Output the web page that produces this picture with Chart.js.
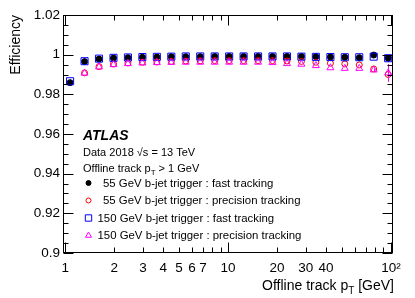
<!DOCTYPE html>
<html>
<head>
<meta charset="utf-8">
<script src="https://cdn.jsdelivr.net/npm/chart.js"></script>
<style>
  html, body { margin: 0; padding: 0; background: #fff; }
  #wrap { width: 415px; height: 298px; }
</style>
</head>
<body>
<div id="wrap"><canvas id="eff" width="415" height="298"></canvas></div>
<script>
// offline track pT bin centres [GeV]
const ptBins = [1.070, 1.313, 1.611, 1.977, 2.425, 2.975, 3.651, 4.479, 5.495, 6.742, 8.272, 10.15,
                12.45, 15.28, 18.74, 23.0, 28.2, 34.6, 42.5, 52.1, 63.9, 78.4, 96.2];

const eff55Fast = [0.9859, 0.9965, 0.9978, 0.9983, 0.9985, 0.9987, 0.9988, 0.9990, 0.9990, 0.9990, 0.9991, 0.9991,
                   0.9991, 0.9991, 0.9991, 0.9991, 0.9991, 0.9990, 0.9988, 0.9987, 0.9985, 0.9998, 0.9982];
const eff55Prec = [null, 0.9908, 0.9940, 0.9953, 0.9958, 0.9962, 0.9963, 0.9966, 0.9968, 0.9969, 0.9970, 0.9970,
                   0.9970, 0.9970, 0.9970, 0.9968, 0.9966, 0.9962, 0.9957, 0.9953, 0.9948, 0.9928, 0.9900];
const eff150Fast = [0.9866, 0.9967, 0.9980, 0.9984, 0.9986, 0.9988, 0.9989, 0.9990, 0.9991, 0.9991, 0.9991, 0.9991,
                    0.9991, 0.9991, 0.9991, 0.9991, 0.9990, 0.9989, 0.9988, 0.9987, 0.9987, 0.9990, 0.9982];
const eff150Prec = [null, 0.9907, 0.9938, 0.9950, 0.9955, 0.9958, 0.9960, 0.9961, 0.9962, 0.9962, 0.9962, 0.9962,
                    0.9962, 0.9962, 0.9960, 0.9955, 0.9952, 0.9945, 0.9934, 0.9931, 0.9931, 0.9923, 0.9908];
// only the last bins have an error visible outside the marker
const eff150PrecErr = [0, 0, 0, 0, 0, 0, 0, 0, 0, 0, 0, 0, 0, 0, 0, 0, 0, 0, 0, 0, 0, 0.0008, 0.0045];

const seriesLabels = [
    '55 GeV b-jet trigger : fast tracking',
    '55 GeV b-jet trigger : precision tracking',
    '150 GeV b-jet trigger : fast tracking',
    '150 GeV b-jet trigger : precision tracking'
];

const xTickValues = [1, 2, 3, 4, 5, 6, 7, 8, 9, 10, 20, 30, 40, 50, 60, 70, 80, 90, 100];
const xTickLabels = {1: '1', 2: '2', 3: '3', 4: '4', 5: '5', 6: '6', 7: '7', 10: '10', 20: '20', 30: '30', 40: '40', 100: '10\u00b2'};

const FONT = '"Liberation Sans", Arial, Helvetica, sans-serif';

function toPoints(ys) {
    return ptBins.map((x, i) => ({ x: x, y: ys[i] }));
}

const datasets = [
    { label: seriesLabels[0], data: toPoints(eff55Fast), pointStyle: 'circle', pointRadius: 3,
      backgroundColor: '#000000', borderColor: '#000000', borderWidth: 1, order: 4 },
    { label: seriesLabels[1], data: toPoints(eff55Prec), pointStyle: 'circle', pointRadius: 3,
      backgroundColor: 'rgba(0,0,0,0)', borderColor: '#ff0000', borderWidth: 1, order: 3 },
    { label: seriesLabels[2], data: toPoints(eff150Fast), pointStyle: 'rect', pointRadius: 5,
      backgroundColor: 'rgba(0,0,0,0)', borderColor: '#0000ff', borderWidth: 1, order: 2 },
    { label: seriesLabels[3], data: toPoints(eff150Prec), pointStyle: 'triangle', pointRadius: 4,
      backgroundColor: 'rgba(0,0,0,0)', borderColor: '#ff00ff', borderWidth: 1, order: 1, errors: eff150PrecErr }
];
datasets.forEach(d => { d.showLine = false; d.pointHoverRadius = d.pointRadius; });

function isDecade(v) {
    const l = Math.log10(v);
    return Math.abs(l - Math.round(l)) < 1e-9;
}
function isMajorY(v) {
    return Math.abs(v * 50 - Math.round(v * 50)) < 1e-6;
}

// ROOT-like frame: inward ticks on all four sides, error bars, titles and the in-plot legend
const atlasPlugin = {
    id: 'atlas',
    afterDatasetsDraw(chart) {
        const ctx = chart.ctx;
        const ys = chart.scales.y;
        // error bars
        chart.data.datasets.forEach((ds, di) => {
            if (!ds.errors) return;
            const meta = chart.getDatasetMeta(di);
            ctx.save();
            ctx.strokeStyle = ds.borderColor;
            ctx.lineWidth = 1;
            meta.data.forEach((pt, i) => {
                const e = ds.errors[i];
                const y = ds.data[i].y;
                if (!e || y == null) return;
                const x = Math.round(pt.x) + 0.5;
                ctx.beginPath();
                ctx.moveTo(x, ys.getPixelForValue(y + e));
                ctx.lineTo(x, ys.getPixelForValue(y - e));
                ctx.stroke();
            });
            ctx.restore();
        });
    },
    afterDraw(chart) {
        const ctx = chart.ctx;
        const a = chart.chartArea;
        const xs = chart.scales.x, ys = chart.scales.y;
        const L = Math.round(a.left) + 0.5, R = Math.round(a.right) - 0.5;
        const T = Math.round(a.top) + 0.5, B = Math.round(a.bottom) - 0.5;

        ctx.save();
        ctx.strokeStyle = '#000';
        ctx.lineWidth = 1;
        ctx.strokeRect(L, T, R - L, B - T);

        ctx.beginPath();
        ys.ticks.forEach(t => {
            const y = Math.round(ys.getPixelForValue(t.value)) + 0.5;
            const len = isMajorY(t.value) ? 10 : 5;
            ctx.moveTo(L, y); ctx.lineTo(L + len, y);
            ctx.moveTo(R, y); ctx.lineTo(R - len, y);
        });
        xs.ticks.forEach(t => {
            const x = Math.round(xs.getPixelForValue(t.value)) + 0.5;
            const len = isDecade(t.value) ? 10 : 5;
            ctx.moveTo(x, B); ctx.lineTo(x, B - len);
            ctx.moveTo(x, T); ctx.lineTo(x, T + len);
        });
        ctx.stroke();

        // axis titles
        ctx.fillStyle = '#000';
        ctx.textBaseline = 'alphabetic';
        ctx.font = '14px ' + FONT;
        const t1 = 'Offline track p', t2 = 'T', t3 = ' [GeV]';
        const w1 = ctx.measureText(t1).width, w3 = ctx.measureText(t3).width;
        ctx.font = '10px ' + FONT;
        const w2 = ctx.measureText(t2).width;
        let x0 = a.right + 1 - (w1 + w2 + w3);
        const by = 290;
        ctx.font = '14px ' + FONT;
        ctx.textAlign = 'left';
        ctx.fillText(t1, x0, by);
        ctx.font = '10px ' + FONT;
        ctx.fillText(t2, x0 + w1, by + 4);
        ctx.font = '14px ' + FONT;
        ctx.fillText(t3, x0 + w1 + w2, by);

        ctx.save();
        ctx.translate(20, a.top);
        ctx.rotate(-Math.PI / 2);
        ctx.textAlign = 'right';
        ctx.fillText('Efficiency', 0, 0);
        ctx.restore();

        // ATLAS label block
        const lx = 83;
        ctx.textAlign = 'left';
        ctx.font = 'italic bold 14px ' + FONT;
        ctx.fillText('ATLAS', lx, 140);
        ctx.font = '11px ' + FONT;
        ctx.fillText('Data 2018 \u221As = 13 TeV', lx, 156);
        const s1 = 'Offline track p';
        ctx.fillText(s1, lx, 172);
        const sw = ctx.measureText(s1).width;
        ctx.font = '8px ' + FONT;
        ctx.fillText('T', lx + sw, 175);
        const tw = ctx.measureText('T').width;
        ctx.font = '11px ' + FONT;
        ctx.fillText(' > 1 GeV', lx + sw + tw, 172);

        // legend entries
        const rowY = [183, 200.5, 218, 235.5];
        chart.data.datasets.forEach((ds, i) => {
            ctx.save();
            ctx.fillStyle = ds.backgroundColor;
            ctx.strokeStyle = ds.borderColor;
            ctx.lineWidth = ds.borderWidth;
            Chart.helpers.drawPoint(ctx, {
                pointStyle: ds.pointStyle,
                radius: ds.pointStyle === 'circle' ? 2.5 : (ds.pointStyle === 'rect' ? 4.5 : 3.5),
                borderWidth: ds.borderWidth,
                rotation: 0
            }, 88.5, rowY[i]);
            ctx.restore();
            ctx.fillStyle = '#000';
            ctx.font = '11.4px ' + FONT;
            ctx.textBaseline = 'middle';
            const tx = ds.label.startsWith('150') ? 97.5 : 103;
            ctx.fillText(ds.label, tx, rowY[i] + 0.5);
        });
        ctx.restore();
    }
};

new Chart(document.getElementById('eff').getContext('2d'), {
    type: 'scatter',
    data: { datasets: datasets },
    options: {
        responsive: false,
        animation: false,
        devicePixelRatio: 1,
        layout: { padding: { top: 15, right: 22, left: 0, bottom: 0 } },
        plugins: {
            legend: { display: false },
            tooltip: { enabled: false }
        },
        scales: {
            x: {
                type: 'logarithmic',
                min: 0.968,
                max: 103,
                afterBuildTicks: (scale) => { scale.ticks = xTickValues.map(v => ({ value: v })); },
                afterFit: (scale) => { scale.height = 45; },
                grid: { display: false, drawTicks: false },
                border: { display: false },
                ticks: {
                    autoSkip: false,
                    maxRotation: 0,
                    padding: 7,
                    color: '#000',
                    font: { family: FONT, size: 13.5 },
                    callback: (v) => xTickLabels[v] || ''
                }
            },
            y: {
                min: 0.9,
                max: 1.02,
                afterFit: (scale) => { scale.width = 63; },
                grid: { display: false, drawTicks: false },
                border: { display: false },
                ticks: {
                    stepSize: 0.005,
                    autoSkip: false,
                    padding: 3,
                    color: '#000',
                    font: { family: FONT, size: 13.5 },
                    callback: (v) => isMajorY(v) ? String(parseFloat(v.toFixed(2))) : ''
                }
            }
        }
    },
    plugins: [atlasPlugin]
});
</script>
</body>
</html>
